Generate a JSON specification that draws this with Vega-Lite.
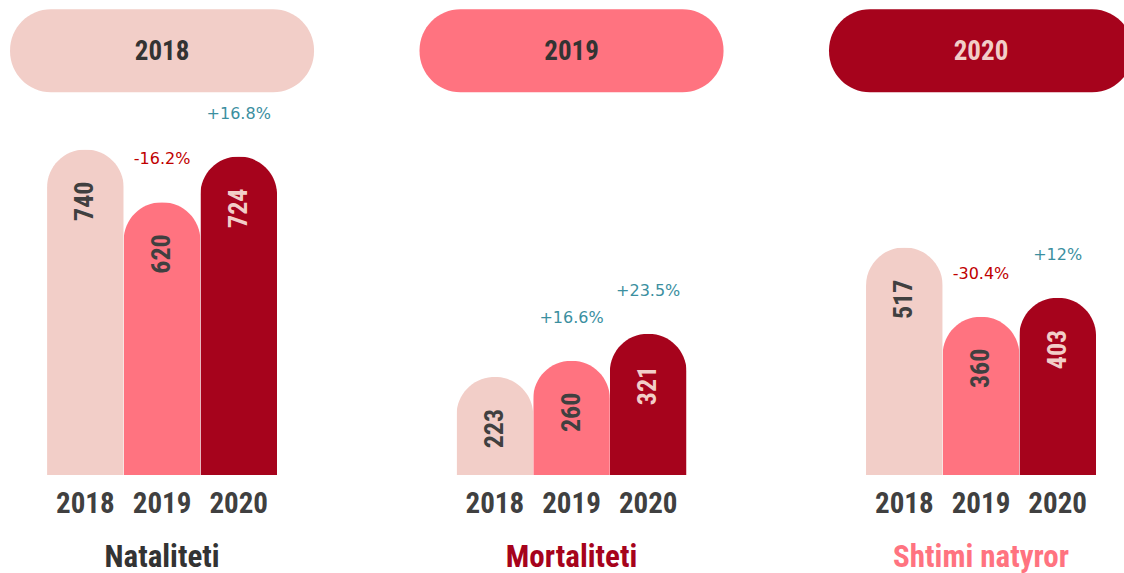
{
  "$schema": "https://vega.github.io/schema/vega-lite/v6.json",
  "width": 1124,
  "height": 475,
  "autosize": {"type": "none"},
  "padding": {"left": 0, "right": 0, "top": 0, "bottom": 98},
  "background": "white",
  "config": {"view": {"stroke": null}},
  "datasets": {
    "bars": [
      {"group": "Nataliteti", "year": "2018", "value": 740, "chg": null, "pct": ""},
      {"group": "Nataliteti", "year": "2019", "value": 620, "chg": -16.2, "pct": "-16.2%"},
      {"group": "Nataliteti", "year": "2020", "value": 724, "chg": 16.8, "pct": "+16.8%"},
      {"group": "Mortaliteti", "year": "2018", "value": 223, "chg": null, "pct": ""},
      {"group": "Mortaliteti", "year": "2019", "value": 260, "chg": 16.6, "pct": "+16.6%"},
      {"group": "Mortaliteti", "year": "2020", "value": 321, "chg": 23.5, "pct": "+23.5%"},
      {"group": "Shtimi natyror", "year": "2018", "value": 517, "chg": null, "pct": ""},
      {"group": "Shtimi natyror", "year": "2019", "value": 360, "chg": -30.4, "pct": "-30.4%"},
      {"group": "Shtimi natyror", "year": "2020", "value": 403, "chg": 12, "pct": "+12%"}
    ],
    "pills": [
      {"group": "Nataliteti", "year": "2018"},
      {"group": "Mortaliteti", "year": "2019"},
      {"group": "Shtimi natyror", "year": "2020"}
    ]
  },
  "encoding": {
    "x": {
      "field": "group",
      "type": "nominal",
      "sort": ["Nataliteti", "Mortaliteti", "Shtimi natyror"],
      "scale": {"paddingInner": 0.4383, "paddingOuter": 0.0916, "align": 0.627},
      "axis": {
        "title": null,
        "domain": false,
        "ticks": false,
        "tickSize": 0,
        "grid": false,
        "labelPadding": 82,
        "labelBaseline": "middle",
        "labelAngle": 0,
        "labelLimit": 0,
        "labelFont": "'Roboto Condensed', 'DejaVu Sans Condensed', sans-serif",
        "labelFontWeight": "bold",
        "labelFontSize": 31,
        "labelColor": {"expr": "datum.value == 'Mortaliteti' ? '#a6031c' : datum.value == 'Shtimi natyror' ? '#ff7380' : '#333333'"}
      }
    }
  },
  "layer": [
    {
      "data": {"name": "pills"},
      "mark": {"type": "bar", "width": 304, "cornerRadius": 41},
      "encoding": {
        "y": {"datum": 1059, "type": "quantitative", "scale": {"domain": [0, 1080], "nice": false}, "axis": null},
        "y2": {"datum": 870},
        "color": {"field": "year", "type": "nominal", "scale": {"domain": ["2018", "2019", "2020"], "range": ["#f2cec8", "#ff7380", "#a6031c"]}, "legend": null}
      }
    },
    {
      "data": {"name": "pills"},
      "mark": {"type": "text", "font": "'Roboto Condensed', 'DejaVu Sans Condensed', sans-serif", "fontWeight": "bold", "fontSize": 27, "baseline": "middle", "align": "center", "dy": 1},
      "encoding": {
        "y": {"datum": 964.5, "type": "quantitative"},
        "text": {"field": "year"},
        "color": {"condition": {"test": "datum.year == '2020'", "value": "#f2cec8"}, "value": "#333333"}
      }
    },
    {
      "data": {"name": "bars"},
      "mark": {"type": "bar", "cornerRadiusTopLeft": 38, "cornerRadiusTopRight": 38},
      "encoding": {
        "xOffset": {"field": "year", "type": "nominal", "scale": {"paddingInner": 0, "paddingOuter": 0}},
        "y": {"field": "value", "type": "quantitative"},
        "color": {"field": "year", "type": "nominal"}
      }
    },
    {
      "data": {"name": "bars"},
      "mark": {"type": "text", "font": "'Roboto Condensed', 'DejaVu Sans Condensed', sans-serif", "fontWeight": "bold", "fontSize": 26, "angle": 270, "align": "right", "baseline": "middle", "dx": -32},
      "encoding": {
        "xOffset": {"field": "year", "type": "nominal"},
        "y": {"field": "value", "type": "quantitative"},
        "text": {"field": "value"},
        "color": {"condition": {"test": "datum.year == '2020'", "value": "#f2cec8"}, "value": "#404040"}
      }
    },
    {
      "data": {"name": "bars"},
      "mark": {"type": "text", "font": "DejaVu Sans", "fontSize": 16, "align": "center", "baseline": "middle", "dy": -43},
      "encoding": {
        "xOffset": {"field": "year", "type": "nominal"},
        "y": {"field": "value", "type": "quantitative"},
        "text": {"field": "pct"},
        "color": {"condition": {"test": "datum.chg < 0", "value": "#c00000"}, "value": "#3b8f9f"}
      }
    },
    {
      "data": {"name": "bars"},
      "mark": {"type": "text", "font": "'Roboto Condensed', 'DejaVu Sans Condensed', sans-serif", "fontWeight": "bold", "fontSize": 29, "align": "center", "baseline": "middle", "dy": 29, "color": "#404040"},
      "encoding": {
        "xOffset": {"field": "year", "type": "nominal"},
        "y": {"datum": 0, "type": "quantitative"},
        "text": {"field": "year"}
      }
    }
  ]
}
